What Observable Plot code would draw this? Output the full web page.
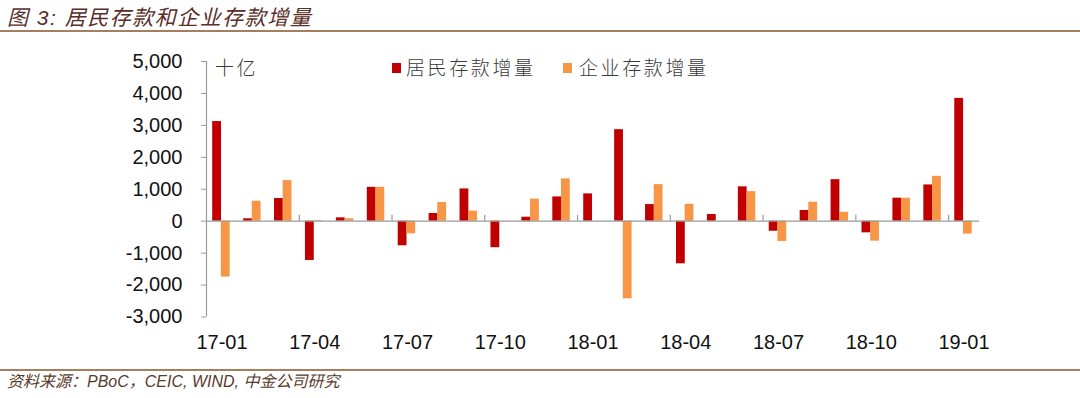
<!DOCTYPE html>
<html>
<head>
<meta charset="utf-8">
<script src="https://cdn.jsdelivr.net/npm/d3@7"></script>
<script src="https://cdn.jsdelivr.net/npm/@observablehq/plot@0.6"></script>
<style>
  body { margin:0; width:1080px; height:398px; position:relative; background:#fff; overflow:hidden; }
  .abs { position:absolute; }
  #title { left:7px; top:5px; font-family:"Liberation Sans","Noto Sans CJK SC",sans-serif; font-style:italic; font-size:21px; letter-spacing:1.5px; color:#5a2e28; line-height:26px; white-space:nowrap; }
  .rule { left:0; width:1080px; height:2px; background:#a67d5f; }
  #caption { left:7px; top:373px; font-family:"Liberation Sans","Noto Sans CJK SC",sans-serif; font-style:italic; font-size:16px; color:#5a3a2a; line-height:18px; white-space:nowrap; }
  .leg { font-family:"Noto Sans CJK SC",sans-serif; font-weight:300; font-size:19px; letter-spacing:2.6px; color:#3a3a3a; line-height:20px; white-space:nowrap; }
  .sw { width:9px; height:10px; }
</style>
</head>
<body>
<div id="title" class="abs">图 3: 居民存款和企业存款增量</div>
<div class="abs rule" style="top:30px"></div>
<div id="chart" class="abs" style="left:0;top:31px"></div>
<div class="abs leg" style="left:215px;top:57px">十亿</div>
<div class="abs sw" style="left:392px;top:63px;background:#C00000"></div>
<div class="abs leg" style="left:406px;top:57px">居民存款增量</div>
<div class="abs sw" style="left:563px;top:63px;background:#F79646"></div>
<div class="abs leg" style="left:579px;top:57px">企业存款增量</div>
<div class="abs rule" style="top:369px"></div>
<div id="caption" class="abs">资料来源：PBoC，CEIC, WIND, 中金公司研究</div>
<script>
const months = ["17-01","17-02","17-03","17-04","17-05","17-06","17-07","17-08","17-09","17-10","17-11","17-12",
                "18-01","18-02","18-03","18-04","18-05","18-06","18-07","18-08","18-09","18-10","18-11","18-12","19-01"];
const household = [3120, 75, 710, -1230, 105, 1060, -770, 240, 1010, -830, 125, 760,
                   855, 2865, 520, -1335, 210, 1075, -315, 335, 1300, -365, 720, 1135, 3845];
const corporate = [-1750, 625, 1270, 20, 75, 1060, -395, 585, 315, 0, 690, 1325,
                   0, -2430, 1145, 530, 0, 925, -635, 595, 280, -625, 720, 1405, -405];
const labelMonths = ["17-01","17-04","17-07","17-10","18-01","18-04","18-07","18-10","19-01"];
const yTicks = [-3000,-2000,-1000,0,1000,2000,3000,4000,5000];

const rows = months.map((m, i) => ({month: m, household: household[i], corporate: corporate[i]}));

const W = 1080, H = 338, mL = 206, mR = 101, mT = 30, mB = 52.5;
const step = (W - mL - mR) / months.length;
const axisColor = "#9a9a9a";

const chart = Plot.plot({
  width: W, height: H,
  marginLeft: mL, marginRight: mR, marginTop: mT, marginBottom: mB,
  style: {fontFamily: "Arial, 'Liberation Sans', sans-serif", fontSize: "20px", color: "#111", background: "transparent", overflow: "visible"},
  x: {domain: months, paddingInner: 0, paddingOuter: 0, round: false, label: null},
  y: {domain: [-3000, 5000], label: null},
  marks: [
    Plot.barY(rows, {x: "month", y: "household", fill: "#C00000", insetLeft: step*0.2, insetRight: step*0.515}),
    Plot.barY(rows, {x: "month", y: "corporate", fill: "#F79646", insetLeft: step*0.48, insetRight: step*0.235}),
    Plot.ruleY([0], {stroke: axisColor, strokeWidth: 1.2}),
    Plot.ruleX(labelMonths.slice(1), {x: d => d, y1: 0, y2: 0, insetBottom: 6, dx: -step/2, stroke: axisColor, strokeWidth: 1.2}),
    Plot.ruleX([months[0]], {x: d => d, dx: -step/2, stroke: axisColor, strokeWidth: 1.2}),
    Plot.axisY({ticks: yTicks, tickSize: 5, tickPadding: 19, stroke: axisColor, tickFormat: d => d.toLocaleString("en-US"), label: null}),
    Plot.axisX({tickSize: 0, tickPadding: 18, tickFormat: d => labelMonths.includes(d) ? d : "", label: null})
  ]
});
document.getElementById("chart").appendChild(chart);
</script>
</body>
</html>
